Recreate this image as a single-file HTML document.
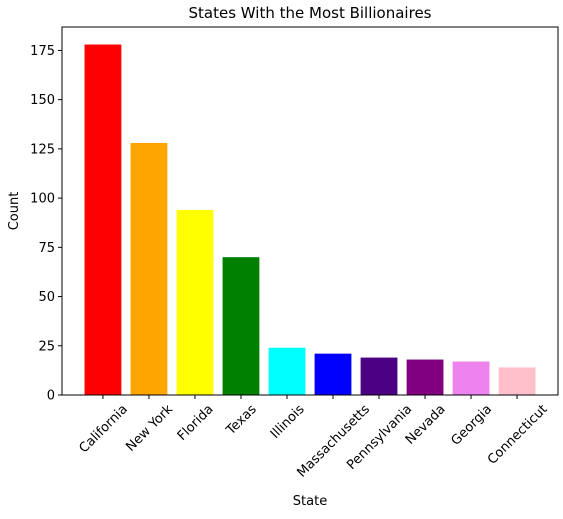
<!DOCTYPE html>
<html><head><meta charset="utf-8"><style>
body{margin:0;background:#fff;font-family:"Liberation Sans","DejaVu Sans",sans-serif;}
</style></head><body>
<svg id="chart" width="563" height="514" xmlns="http://www.w3.org/2000/svg" font-family="'DejaVu Sans','Liberation Sans',sans-serif">
<rect width="563" height="514" fill="#fff"/>
<text x="310" y="18" text-anchor="middle" font-size="15">States With the Most Billionaires</text>
<g id="bars"></g><g id="axes"></g>
<text x="310" y="505" text-anchor="middle" font-size="13">State</text>
<text transform="translate(18,211) rotate(-90)" text-anchor="middle" font-size="13">Count</text>
</svg>
<script>
const categories=["California","New York","Florida","Texas","Illinois","Massachusetts","Pennsylvania","Nevada","Georgia","Connecticut"];
const counts=[178,128,94,70,24,21,19,18,17,14];
const colors=["red","orange","yellow","green","cyan","blue","indigo","purple","violet","pink"];
const yTicks=[0,25,50,75,100,125,150,175];
const L=62,R=558,T=27,B=395;
const ymax=Math.max(...counts)*1.05;
const xmin=-0.89,xmax=categories.length-1+0.89;
const xs=v=>L+(v-xmin)/(xmax-xmin)*(R-L);
const ys=v=>B-v/ymax*(B-T);
const NS="http://www.w3.org/2000/svg";
const bars=document.getElementById('bars'),axes=document.getElementById('axes');
function mk(tag,attrs,parent){const e=document.createElementNS(NS,tag);for(const k in attrs)e.setAttribute(k,attrs[k]);parent.appendChild(e);return e;}
categories.forEach((c,i)=>{
  const x0=xs(i-0.4),x1=xs(i+0.4);
  const r=mk('rect',{x:x0,y:ys(counts[i]),width:x1-x0,height:B-ys(counts[i]),fill:colors[i]},bars);
  
  
  const x=xs(i);
  mk('line',{x1:x,x2:x,y1:B,y2:B+4,stroke:'#000'},axes);
  const t=mk('text',{x:0,y:4.5,'text-anchor':'middle','font-size':'13'},axes);
  t.textContent=c;
  const w=t.getComputedTextLength();
  const h=(w+13)*0.7071;
  t.setAttribute('transform',`translate(${x},${B+7+h/2}) rotate(-45)`);
  
  
});
yTicks.forEach(v=>{
  const y=ys(v);
  mk('line',{x1:L-4,x2:L,y1:y,y2:y,stroke:'#000'},axes);
  const t=mk('text',{x:L-7,y:y+4.5,'text-anchor':'end','font-size':'13'},axes);
  t.textContent=v;
  
  
});
const f=mk('rect',{x:L,y:T,width:R-L,height:B-T,fill:'none',stroke:'#000','stroke-width':1},axes);


</script>
</body></html>
